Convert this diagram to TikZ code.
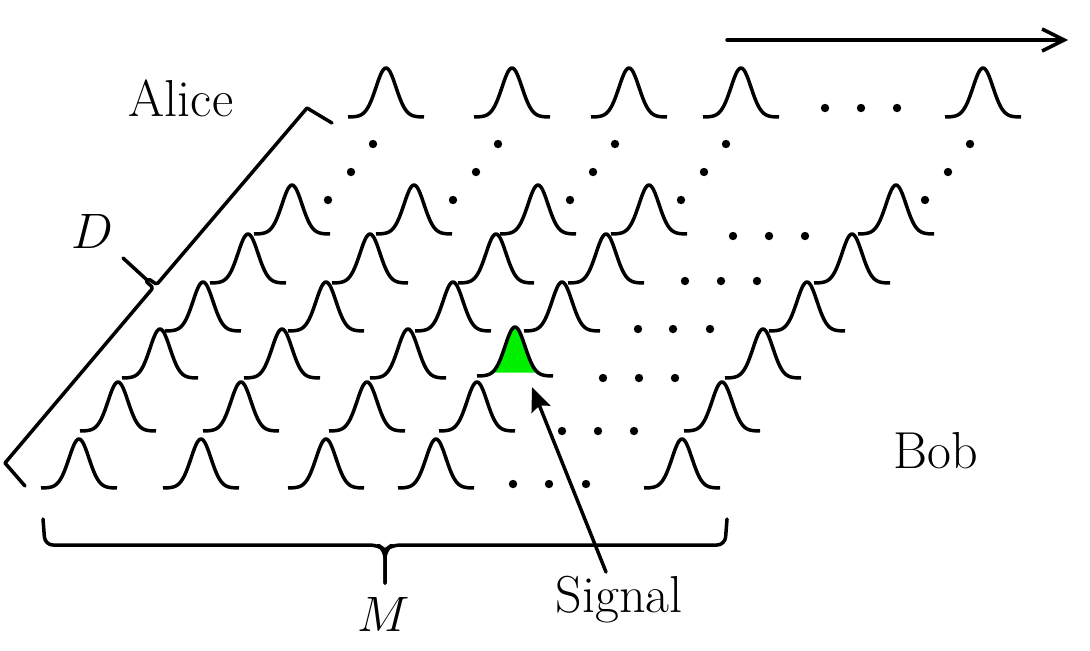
\documentclass[tikz,border=0pt]{standalone}
\usetikzlibrary{arrows.meta}
\definecolor{signalgreen}{RGB}{0,240,0}
\tikzset{
  ln/.style={line width=1.75pt, line cap=round, line join=round},
  lbl/.style={font=\fontsize{26}{31}\selectfont, inner sep=0pt},
  pulse/.pic={\draw[ln, line cap=butt] plot[domain=-38:38, samples=61, smooth] (\x, {-49*exp(-(\x)^2/(2*10^2))});},
  gpulse/.pic={\fill[signalgreen] plot[domain=-23:23, samples=45, smooth] (\x, {-49*exp(-(\x)^2/(2*10^2))}) -- cycle;
               \draw[ln, line cap=butt] plot[domain=-38:38, samples=61, smooth] (\x, {-49*exp(-(\x)^2/(2*10^2))});},
  dot/.style={fill=black}
}
\begin{document}
\begin{tikzpicture}[x=0.5pt, y=-0.5pt]
\useasboundingbox (0,0) rectangle (1090,650);

% rows of pulses
\foreach \yb/\xs in {488/{79,201,326,436,682},
                     431/{118,241,367,477,722},
                     378/{160,282,408,763},
                     331/{203,326,453,562,807},
                     283/{248,370,496,606,852},
                     234/{292,414,538,649,896},
                     117/{386,512,629,741,983}} {
  \foreach \px in \xs { \pic at (\px,\yb) {pulse}; }
}
% signal pulse
\pic (sigpulse) at (515,376) {gpulse};

% horizontal dots
\foreach \dy/\xs in {484/{513,549,586},
                     431/{562,598,634},
                     378/{603,639,675},
                     329/{638,673,710},
                     281/{685,721,757},
                     236/{733,769,805},
                     108/{825,861,897}} {
  \foreach \dx in \xs { \fill[dot] (\dx,\dy) circle[radius=2.1pt]; }
}
% diagonal dots
\foreach \dx in {328,453,570,681,925} {
  \fill[dot] (\dx,200) circle[radius=2.1pt];
  \fill[dot] (\dx+23,172) circle[radius=2.1pt];
  \fill[dot] (\dx+45,144) circle[radius=2.1pt];
}

% time arrow
\coordinate (t0) at (727,40);
\coordinate (t1) at (1068,40);
\draw[ln, -{Straight Barb[length=11pt, width=11pt, line width=1.75pt]}] (t0) -- (t1);

% labels
\node[lbl] (alice) at (181,98) {Alice};
\node[lbl] (bob) at (936,451) {Bob};
\node[lbl] (dlab) at (92,231) {$D$};
\node[lbl] (mlab) at (384,614) {$M$};
\node[lbl] (sig) at (619,600) {Signal};

% brace D
\draw[ln] (25,486) -- (5,463) -- (152,289) to[out=50,in=-140] (147,280) -- (123,258);
\draw[ln] (147,280) to[out=40,in=-130] (158,283) -- (307,108) -- (332,123);

% brace M
\draw[ln, rounded corners=4pt] (43,519) -- (45,545) -- (378,545) -- (385,550) -- (385,583);
\draw[ln, rounded corners=4pt] (385,583) -- (385,550) -- (392,545) -- (725,545) -- (727,519);

% signal arrow
\coordinate (sigtail) at (606,572);
\coordinate (sigtip) at (532,387);
\draw[ln, -{Stealth[length=12pt, width=10pt, inset=2pt]}] (sigtail) -- (sigtip);
\end{tikzpicture}
\end{document}
